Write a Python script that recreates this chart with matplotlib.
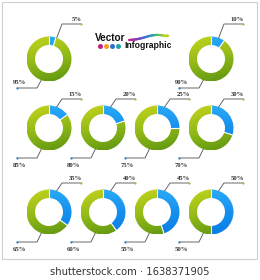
import numpy as np
import matplotlib
matplotlib.use("Agg")
import matplotlib.pyplot as plt
from matplotlib.patches import Wedge, Rectangle
from matplotlib.collections import LineCollection
from matplotlib.colors import LinearSegmentedColormap

# chart values
blue_pct = [5, 10, 15, 20, 25, 30, 35, 40, 45, 50]
green_pct = [100 - p for p in blue_pct]
top_labels = ["%d%%" % p for p in blue_pct]
bottom_labels = ["%d%%" % p for p in green_pct]

# layout (pixels, y downwards)
col_x = [49, 103, 157, 211]
row_y = [59, 128, 212]
slots = [(0, 0), (0, 3)] + [(1, c) for c in range(4)] + [(2, c) for c in range(4)]
R, W = 22.5, 8.5

green_cm = LinearSegmentedColormap.from_list("g", ["#c6d41c", "#92ba18", "#5c9410"])
blue_cm = LinearSegmentedColormap.from_list("b", ["#2aaaf6", "#1690ee", "#0a7ee4"])

fig = plt.figure(figsize=(2.6, 2.8), dpi=100)
ax = fig.add_axes([0, 0, 1, 1])
ax.set_xlim(0, 260)
ax.set_ylim(280, 0)
ax.axis("off")

# frame
ax.add_patch(Rectangle((2, 2), 255, 257, fill=False, ec="#cfcfcf", lw=0.8))


def grad_fill(patch, cmap, cx, cy, diag):
    n = 60
    yy, xx = np.mgrid[0:1:n * 1j, 0:1:n * 1j]
    g = yy * 0.8 + xx * 0.2 if diag else yy
    im = ax.imshow(g, cmap=cmap, extent=(cx - R, cx + R, cy + R, cy - R),
                   origin="upper", interpolation="bilinear", zorder=2)
    ax.add_patch(patch)
    im.set_clip_path(patch)


for i, (r, c) in enumerate(slots):
    cx, cy = col_x[c], row_y[r]
    t1 = 270
    t2 = 270 + 360 * blue_pct[i] / 100
    gw = Wedge((cx, cy), R, t2, t1 + 360, width=W, fc="none", ec="none")
    bw = Wedge((cx, cy), R, t1, t2, width=W, fc="none", ec="none")
    grad_fill(gw, green_cm, cx, cy, True)
    grad_fill(bw, blue_cm, cx, cy, False)
    # white separators
    for a in (t1, t2):
        ra = np.radians(a)
        ax.plot([cx + (R - W) * np.cos(ra), cx + R * np.cos(ra)],
                [cy + (R - W) * np.sin(ra), cy + R * np.sin(ra)],
                color="white", lw=0.8, zorder=3)

    # top leader
    up = 35 if r == 0 else 29
    sa = np.radians(20)
    pts_x = [cx + R * np.sin(sa), cx + 13, cx + 32]
    pts_y = [cy - R * np.cos(sa), cy - up, cy - up]
    ax.plot(pts_x, pts_y, color="#505050", lw=0.6, zorder=4)
    ax.plot(pts_x[-1], pts_y[-1], "o", ms=1.6, color="#8cc63f", mec="none", zorder=5)
    ax.text(cx + 33, cy - up - 3, top_labels[i], ha="right", va="baseline",
            fontsize=4.8, family="Liberation Serif", weight="bold", color="#333333")

    # bottom leader
    dn = 29 if r == 0 else 30
    px = [cx - R * np.sin(sa), cx - 12, cx - 32]
    py = [cy + R * np.cos(sa), cy + dn, cy + dn]
    ax.plot(px, py, color="#505050", lw=0.6, zorder=4)
    ax.plot(px[-1], py[-1], "o", ms=1.6, color="#1e88e5", mec="none", zorder=5)
    ly = cy + dn - 4 if r == 0 else cy + dn + 9
    ax.text(cx - 36, ly, bottom_labels[i], ha="left", va="baseline",
            fontsize=4.8, family="Liberation Serif", weight="bold", color="#333333")

# title
ax.text(95, 41, "Vector", fontsize=7.2, family="Liberation Sans", weight="bold",
        color="#111111", va="baseline", ha="left")
ax.text(124, 48, "Infographic", fontsize=6.2, family="Liberation Sans", weight="bold",
        color="#111111", va="baseline", ha="left")
for k, col in enumerate(["#c21f8c", "#f0a21e", "#2f6fd0", "#23a3a0"]):
    ax.plot(100 + 6 * k, 45.5, "o", ms=3.6, color=col, mec="none")

t = np.linspace(0, 1, 40)
ax_x = 129 + 37 * t
ax_y = 40 - 1.5 * np.sin(np.pi * t) + 2 * np.sin(2 * np.pi * t) * 0.5 - 4 * t
segs = np.stack([np.column_stack([ax_x[:-1], ax_y[:-1]]),
                 np.column_stack([ax_x[1:], ax_y[1:]])], axis=1)
rainbow = LinearSegmentedColormap.from_list("r", ["#d0208f", "#7a3fc0", "#2f80e0", "#30c070", "#d8d020"])
lc = LineCollection(segs, colors=rainbow(t[:-1]), lw=1.6, capstyle="round")
ax.add_collection(lc)
ax.annotate("", xy=(170, 35.5), xytext=(165, 36),
            arrowprops=dict(arrowstyle="-|>", color="#b8d020", lw=0.8, mutation_scale=4))

ax.text(130, 272, "shutterstock.com \u00b7 1638371905", ha="center", va="center",
        fontsize=7.2, family="DejaVu Sans", color="#333333")

fig.savefig("out.png", dpi=100, facecolor="white")
